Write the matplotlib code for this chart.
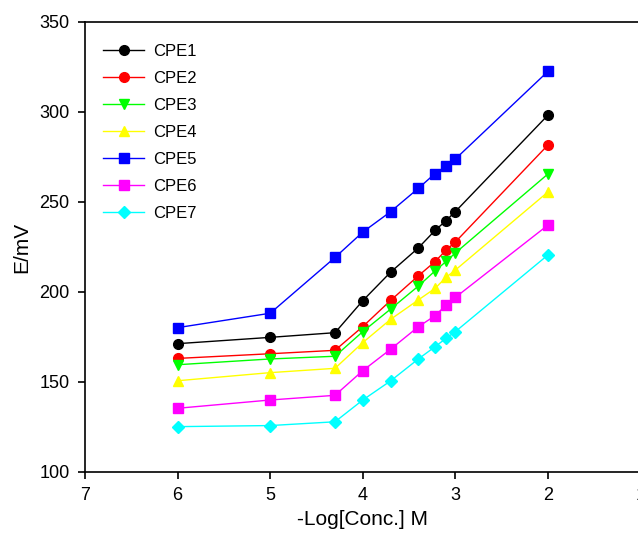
import matplotlib.pyplot as plt

plt.rcParams['font.family'] = ['Liberation Sans', 'DejaVu Sans']

# -log[conc.] values
log_conc = [6, 5, 4.3, 4, 3.7, 3.4, 3.22, 3.1, 3.0, 2]

cpe1 = [171.3, 174.8, 177.4, 195.2, 211.0, 224.5, 234.2, 239.7, 244.7, 298.3]
cpe2 = [163.1, 165.7, 167.6, 180.8, 195.3, 209.0, 216.9, 223.3, 227.8, 281.7]
cpe3 = [159.6, 162.8, 164.3, 178.0, 190.5, 203.3, 211.7, 217.0, 221.7, 265.6]
cpe4 = [150.7, 155.2, 157.6, 171.9, 184.8, 195.6, 202.0, 208.2, 212.2, 255.6]
cpe5 = [180.2, 188.2, 219.2, 233.3, 244.6, 257.6, 265.8, 270.0, 273.9, 322.6]
cpe6 = [135.4, 140.0, 142.6, 156.3, 168.2, 180.7, 186.8, 192.8, 197.0, 237.2]
cpe7 = [125.2, 125.8, 127.9, 140.0, 150.6, 162.8, 169.6, 174.3, 178.0, 220.6]

series = [
    ('CPE1', cpe1, 'black', 'o'),
    ('CPE2', cpe2, 'red', 'o'),
    ('CPE3', cpe3, '#00ff00', 'v'),
    ('CPE4', cpe4, '#ffff00', '^'),
    ('CPE5', cpe5, 'blue', 's'),
    ('CPE6', cpe6, '#ff00ff', 's'),
    ('CPE7', cpe7, 'cyan', 'D'),
]

fig = plt.figure(figsize=(6.38, 5.47), dpi=100)
ax = fig.add_axes([85 / 638, 1 - 472 / 547, (640.6 - 85) / 638, 450 / 547])

for name, vals, col, mk in series:
    ms = 6 if mk == 'D' else 7
    ax.plot(log_conc, vals, color=col, marker=mk, markersize=ms,
            linewidth=1, label=name)

ax.set_xlim(7, 1)
ax.set_ylim(100, 350)
ax.set_xticks([7, 6, 5, 4, 3, 2, 1])
ax.set_yticks([100, 150, 200, 250, 300, 350])
ax.tick_params(direction='out', length=5, width=1.2, labelsize=13, pad=6)
for s in ax.spines.values():
    s.set_linewidth(1.2)

ax.set_xlabel('-Log[Conc.] M', fontsize=15, labelpad=4)
ax.set_ylabel('E/mV', fontsize=15, labelpad=6)

ax.legend(loc='upper left', bbox_to_anchor=(0.005, 0.985), frameon=False,
          fontsize=12, handlelength=2.5, handletextpad=0.5,
          labelspacing=0.72)

fig.savefig('out.png', dpi=100)
